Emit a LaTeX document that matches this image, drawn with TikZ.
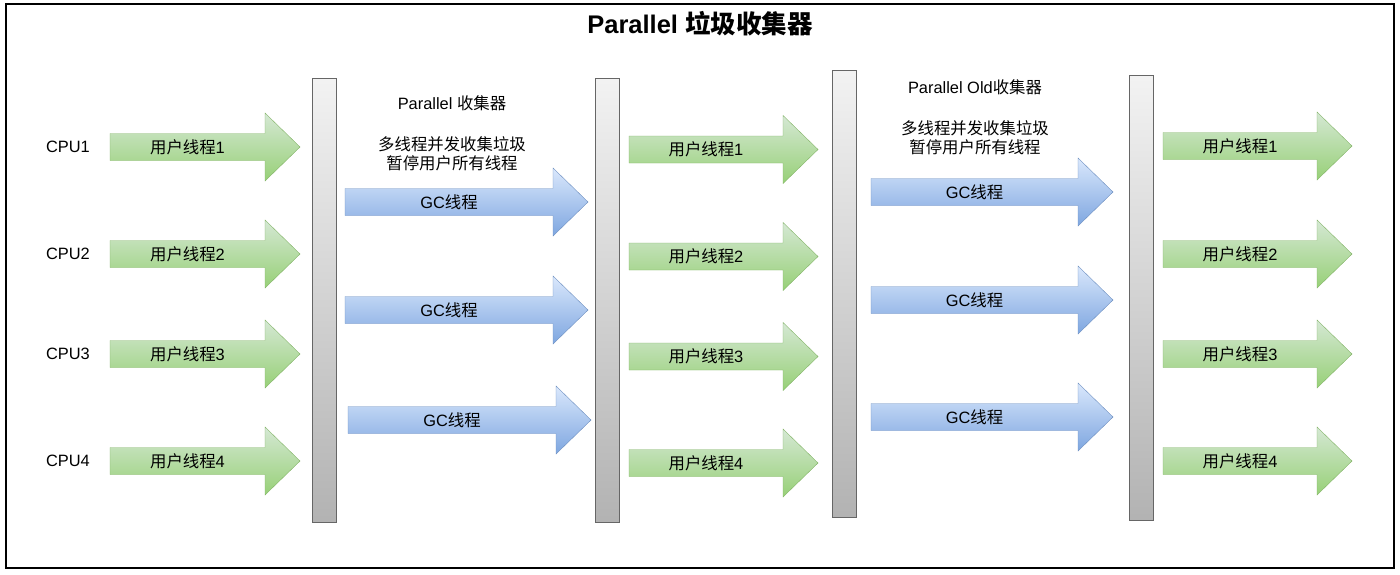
\documentclass[tikz,border=0pt]{standalone}
\usepackage{fontspec}
\setmainfont{Liberation Sans}
\newfontfamily\cjk{Noto Sans CJK SC}
\usetikzlibrary{positioning}

\definecolor{userfill}{HTML}{D5E8D4}
\definecolor{usergrad}{HTML}{97D077}
\definecolor{userline}{HTML}{82B366}
\definecolor{gcfill}{HTML}{DAE8FC}
\definecolor{gcgrad}{HTML}{7EA6E0}
\definecolor{gcline}{HTML}{6C8EBF}
\definecolor{barline}{HTML}{666666}

% block arrow: name, tail x, tip x, y, style, text
\newcommand{\thread}[6]{%
  \draw[#5] (#2,#4-13.5) -- (#3-35,#4-13.5) -- (#3-35,#4-34) -- (#3,#4)
    -- (#3-35,#4+34) -- (#3-35,#4+13.5) -- (#2,#4+13.5) -- cycle;
  \node[lbl] (#1) at ({(#2+#3-35)/2},#4) {#6};}

\begin{document}
\begin{tikzpicture}[x=1pt,y=-1pt,
    lbl/.style={font=\fontsize{16.4}{19.5}\selectfont,inner sep=0pt},
    user/.style={draw=userline,top color=userfill,bottom color=usergrad},
    gc/.style={draw=gcline,top color=gcfill,bottom color=gcgrad},
    pause/.style={draw=barline,top color=black!5,bottom color=black!30,
      minimum width=24pt,inner sep=0pt},
    note/.style={lbl,align=center}]
  \useasboundingbox (0,0) rectangle (1400,574);
  \draw[line width=1.5pt] (6,4) rectangle (1394,568);

  \node[font=\bfseries\fontsize{25.5}{30}\selectfont] (title) at (700,24)
    {Parallel {\cjk 垃圾收集器}};

  % stop-the-world bars
  \node[pause,minimum height=444pt] (bar1) at (324,300) {};
  \node[pause,minimum height=444pt] (bar2) at (607,300) {};
  \node[pause,minimum height=447pt] (bar3) at (844,293.5) {};
  \node[pause,minimum height=445pt] (bar4) at (1141,297.5) {};

  \foreach \i/\y in {1/147,2/254,3/354,4/461}
    \node[lbl] (cpu\i) at (68,\y) {CPU\i};

  \foreach \i/\ya/\yb/\yc in {1/147/149.5/146,2/254/256.5/254,
      3/354/356.5/354,4/461/463/461} {
    \thread{ua\i}{110}{300}{\ya}{user}{{\cjk 用户线程}\i}
    \thread{ub\i}{629}{818}{\yb}{user}{{\cjk 用户线程}\i}
    \thread{uc\i}{1163}{1352}{\yc}{user}{{\cjk 用户线程}\i}
  }

  \thread{ga1}{345}{588}{202}{gc}{GC{\cjk 线程}}
  \thread{ga2}{345}{588}{310}{gc}{GC{\cjk 线程}}
  \thread{ga3}{348}{591}{420}{gc}{GC{\cjk 线程}}
  \thread{gb1}{871}{1113}{192}{gc}{GC{\cjk 线程}}
  \thread{gb2}{871}{1113}{300}{gc}{GC{\cjk 线程}}
  \thread{gb3}{871}{1113}{417}{gc}{GC{\cjk 线程}}

  \node[lbl] (par) at (452,103) {Parallel {\cjk 收集器}};
  \node[note] (parnote) at (452,154)
    {{\cjk 多线程并发收集垃圾}\\{\cjk 暂停用户所有线程}};
  \node[lbl] (old) at (975,87) {Parallel Old{\cjk 收集器}};
  \node[note] (oldnote) at (975,138)
    {{\cjk 多线程并发收集垃圾}\\{\cjk 暂停用户所有线程}};
\end{tikzpicture}
\end{document}
